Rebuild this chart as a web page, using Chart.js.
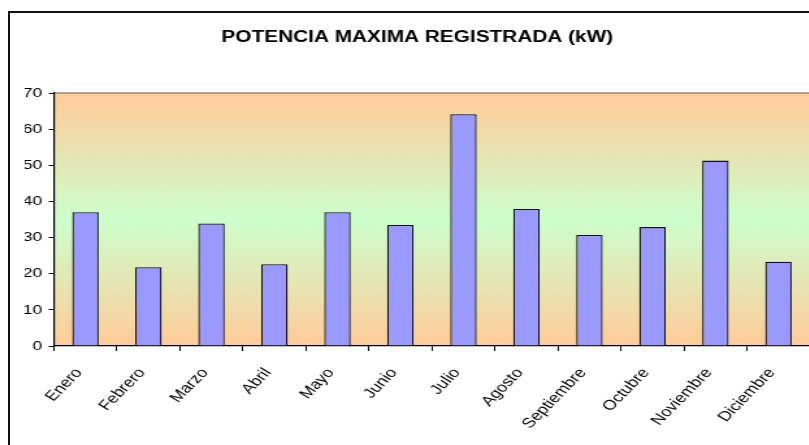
<!DOCTYPE html>
<html>
<head>
<meta charset="utf-8">
<script src="https://cdn.jsdelivr.net/npm/chart.js@4"></script>
<style>
  html, body { margin: 0; padding: 0; width: 809px; height: 445px; overflow: hidden; background: #fff; }
  #frame { position: absolute; left: 8px; top: 11px; width: 816px; height: 500px; border: 2px solid #111; }
  /* el grafico original esta estirado en horizontal (~1.3x) */
  #wrap { position: absolute; left: 0; top: 0; width: 642px; height: 445px; transform: scaleX(1.3); transform-origin: 0 0; }
</style>
</head>
<body>
<div id="frame"></div>
<div id="wrap"><canvas id="potenciaChart" width="642" height="445"></canvas></div>
<script>
const meses = ['Enero', 'Febrero', 'Marzo', 'Abril', 'Mayo', 'Junio', 'Julio', 'Agosto', 'Septiembre', 'Octubre', 'Noviembre', 'Diciembre'];
const potencia = [37.0, 21.8, 33.9, 22.6, 37.0, 33.5, 64.1, 37.9, 30.7, 32.9, 51.3, 23.3];
const yTicks = [0, 10, 20, 30, 40, 50, 60, 70];

const fuente = 'Arial, "Liberation Sans", sans-serif';

// fondo degradado naranja-verde-naranja del area de trazado
const fondoPlugin = {
    id: 'fondo',
    beforeDraw(chart) {
        const { ctx, chartArea } = chart;
        const g = ctx.createLinearGradient(0, chartArea.top, 0, chartArea.bottom);
        g.addColorStop(0, '#FFCC99');
        g.addColorStop(0.5, '#CCFFCC');
        g.addColorStop(1, '#FFCC99');
        ctx.save();
        ctx.fillStyle = g;
        ctx.fillRect(chartArea.left, chartArea.top, chartArea.right - chartArea.left, chartArea.bottom - chartArea.top);
        ctx.strokeStyle = '#8c8c8c';
        ctx.lineWidth = 1.5;
        ctx.beginPath();
        ctx.moveTo(chartArea.left, chartArea.top);
        ctx.lineTo(chartArea.right, chartArea.top);
        ctx.stroke();
        ctx.restore();
    }
};

const potenciaChart = new Chart(document.getElementById('potenciaChart'), {
    type: 'bar',
    data: {
        labels: meses,
        datasets: [{
            label: 'Potencia (kW)',
            data: potencia,
            backgroundColor: '#9999FF',
            borderColor: '#111',
            borderWidth: 1.3,
            barPercentage: 0.42,
            categoryPercentage: 1
        }]
    },
    options: {
        responsive: false,
        animation: false,
        devicePixelRatio: 1,
        layout: { padding: { left: 19, right: 19, top: 0, bottom: 0 } },
        plugins: {
            legend: { display: false },
            tooltip: { enabled: false },
            title: {
                display: true,
                text: 'POTENCIA MAXIMA REGISTRADA (kW)',
                color: '#000',
                font: { family: fuente, size: 16, weight: 'bold' },
                padding: { top: 28, bottom: 45.8 }
            }
        },
        scales: {
            x: {
                offset: true,
                grid: { offset: true, drawOnChartArea: false, tickLength: 5, color: '#000' },
                border: { display: true, color: '#000', width: 1.2 },
                ticks: {
                    color: '#000',
                    minRotation: 52.4,
                    maxRotation: 52.4,
                    padding: 14,
                    labelOffset: -5,
                    font: { family: fuente, size: 14 }
                },
                afterFit(scale) { scale.height = 99; }
            },
            y: {
                min: 0,
                max: 70,
                afterBuildTicks(scale) { scale.ticks = yTicks.map(v => ({ value: v })); },
                grid: { drawOnChartArea: false, tickLength: 4, color: '#000' },
                border: { display: true, color: '#000', width: 1.2 },
                ticks: {
                    color: '#000',
                    padding: 5,
                    font: { family: fuente, size: 13.5 }
                },
                afterFit(scale) { scale.width = 22.5; }
            }
        }
    },
    plugins: [fondoPlugin]
});
</script>
</body>
</html>
